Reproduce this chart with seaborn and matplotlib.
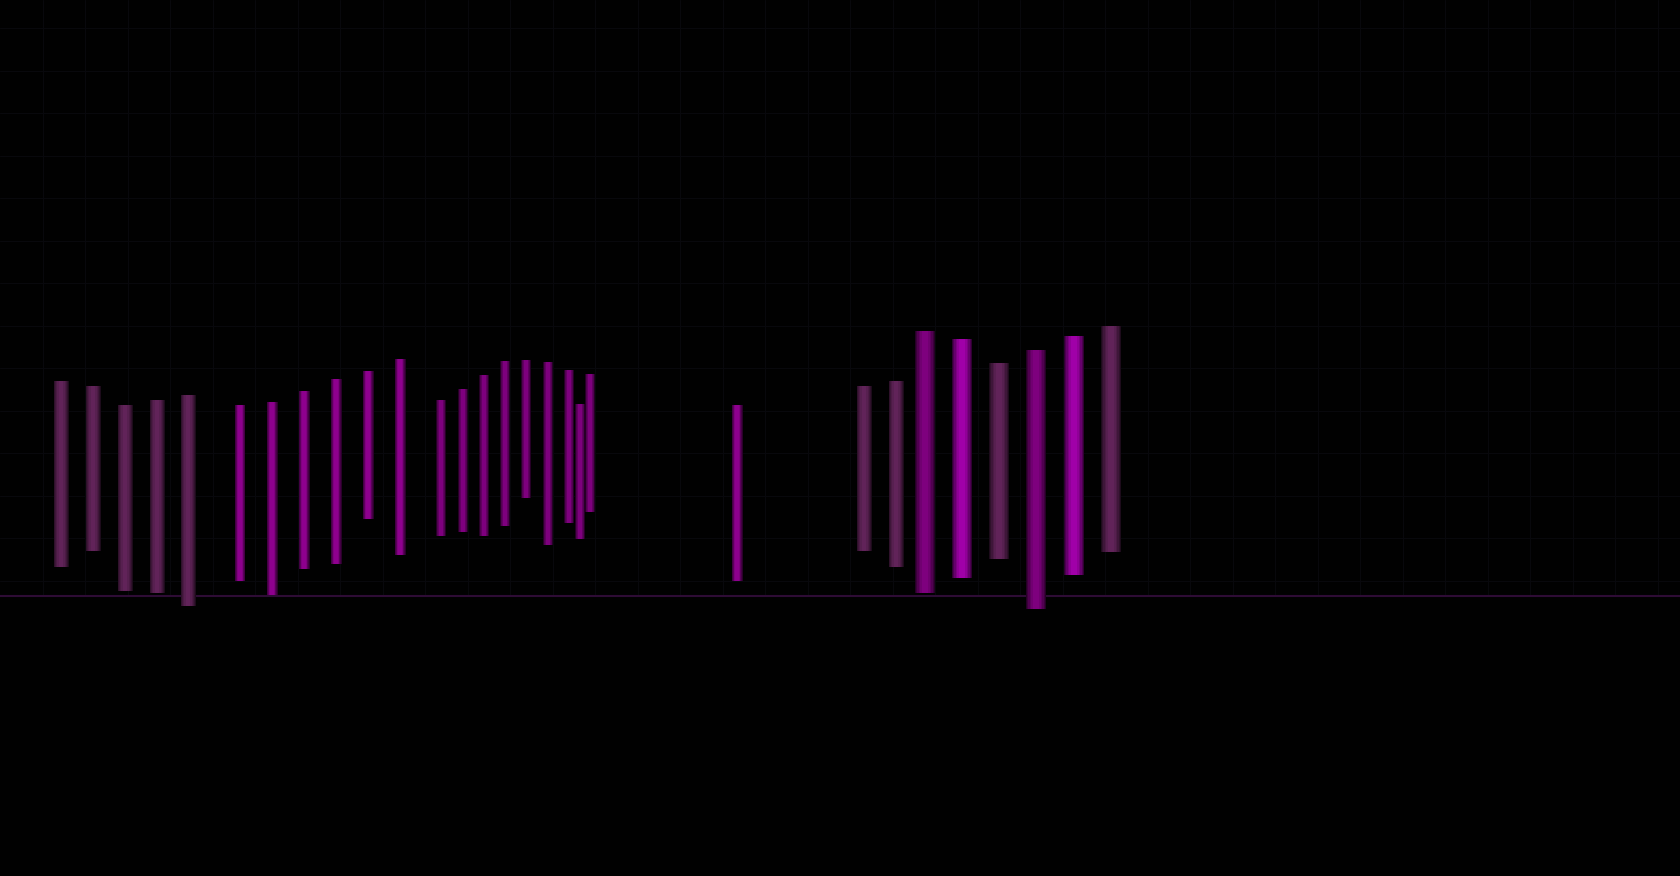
import numpy as np
import pandas as pd
import matplotlib.pyplot as plt
import seaborn as sns
from matplotlib.colors import to_rgb

# floating range bars (no axis labels in the original)
pos = [6.1, 9.3, 12.5, 15.7, 18.8,
       24.0, 27.2, 30.4, 33.6, 36.8, 40.0,
       44.1, 46.3, 48.4, 50.5, 52.6, 54.8, 56.9, 58.0, 59.0,
       73.7,
       86.4, 89.6,
       92.5, 96.2, 99.9, 103.6, 107.4, 111.1]
low = [2.9, 4.5, 0.5, 0.3, -1.0,
       1.5, 0.1, 2.7, 3.2, 7.7, 4.1,
       6.0, 6.4, 6.0, 7.0, 9.8, 5.1, 7.3, 5.7, 8.4,
       1.5,
       4.5, 2.9,
       0.3, 1.8, 3.7, -1.3, 2.1, 4.4]
high = [21.5, 21.0, 19.1, 19.6, 20.1,
        19.1, 19.4, 20.5, 21.7, 22.5, 23.7,
        19.6, 20.7, 22.1, 23.5, 23.6, 23.4, 22.6, 19.2, 22.2,
        19.1,
        21.0, 21.5,
        26.5, 25.7, 23.3, 24.6, 26.0, 27.0]
group = ['A'] * 5 + ['B'] * 6 + ['C'] * 9 + ['D'] + ['E'] * 2 + ['F'] * 6
kind = (['plum'] * 5 + ['magenta'] * 6 + ['deep'] * 9 + ['magenta'] + ['plum'] * 2
        + ['deep', 'bright', 'plum', 'deep', 'bright', 'plum'])

df = pd.DataFrame({'pos': pos, 'low': low, 'high': high, 'group': group, 'kind': kind})

# styles
bar_width = {'A': 1.5, 'B': 1.1, 'C': 0.95, 'D': 1.1, 'E': 1.5, 'F': 2.0}
palette = {'plum': '#612359', 'magenta': '#8e008e', 'deep': '#7e007e', 'bright': '#a000a8'}
# (width fraction, brightness) -> cylinder-like shading, dark edges, bright middle
layers = [(1.0, 0.3), (0.88, 0.48), (0.76, 0.64), (0.62, 0.78), (0.48, 0.9), (0.32, 1.0)]

sns.set_theme(style="dark", rc={"axes.facecolor": "#010101",
                                "figure.facecolor": "#010101",
                                "grid.color": "#08080c",
                                "grid.linewidth": 0.8})

fig = plt.figure(figsize=(16.8, 8.76), dpi=100)
ax = fig.add_axes([0, 280 / 876, 1, 596 / 876])

widths = df['group'].map(bar_width).to_numpy()
for frac, gain in layers:
    cols = [tuple(np.array(to_rgb(palette[k])) * gain) for k in df['kind']]
    ax.bar(df['pos'], df['high'] - df['low'], bottom=df['low'], width=widths * frac,
           color=cols, linewidth=0, clip_on=False, zorder=3)

ax.set_xlim(0, 168)
ax.set_ylim(0, 59.6)
ax.set_xticks(np.arange(4.25, 168, 4.25))
ax.set_yticks(np.arange(56.8, 0, -4.25))
ax.tick_params(length=0, labelbottom=False, labelleft=False)
ax.grid(True)
for side in ['top', 'left', 'right']:
    ax.spines[side].set_visible(False)
ax.spines['bottom'].set_color('#2e0c35')
ax.spines['bottom'].set_linewidth(1.5)
ax.spines['bottom'].set_zorder(2)

fig.savefig('out.png', dpi=100, facecolor=fig.get_facecolor())
